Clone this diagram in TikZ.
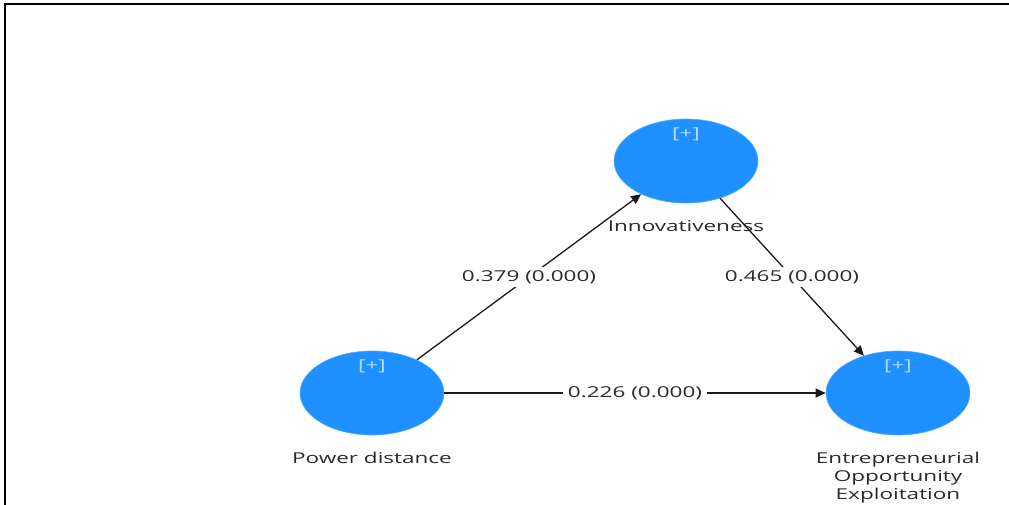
\documentclass[tikz,border=0pt]{standalone}
\usepackage{fontspec}
\setmainfont{Open Sans}
\usepackage{xcolor}
\definecolor{latentblue}{HTML}{1E90FF}
\definecolor{plusblue}{HTML}{B4DDFF}
\definecolor{pathink}{HTML}{1A1A1A}
\definecolor{textgray}{HTML}{2A2A2A}
\usetikzlibrary{positioning,arrows.meta,shapes.geometric}

\begin{document}
\begin{tikzpicture}[x=1pt, y=1pt,
  construct/.style={ellipse, fill=latentblue, draw=latentblue!75!white, line width=0.6pt,
    minimum width=144pt, minimum height=84pt, inner sep=0pt},
  plusmark/.style={text=plusblue, font=\fontsize{15}{17}\selectfont, xscale=1.5,
    transform shape, inner sep=0pt, anchor=north},
  cname/.style={text=textgray, font=\fontsize{15}{18}\selectfont, align=center,
    xscale=1.5, transform shape, inner sep=0pt},
  path/.style={draw=pathink, line width=1.3pt, -{Triangle[length=10pt, width=9pt]}},
  weight/.style={fill=white, text=textgray, font=\fontsize{15}{18}\selectfont,
    xscale=1.5, transform shape, inner sep=3pt}]
  \useasboundingbox (0,0) rectangle (1009,-505);
  % Frame
  \draw[line width=2pt] (5,-505) -- (5,-4) -- (1009,-4);
  % Constructs
  \node[construct] (pd) at (372,-393) {};
  \node[construct] (inn) at (686,-161) {};
  \node[construct] (eoe) at (898,-393) {};
  \foreach \c in {pd,inn,eoe} {
    \node[plusmark] (\c plus) at ([yshift=-9pt]\c.north) {[+]};
  }
  \node[cname, below=17pt of pd] (pdname) {Power distance};
  \node[cname, below=17pt of inn] (innname) {Innovativeness};
  \node[cname, below=17pt of eoe] (eoename) {Entrepreneurial\\Opportunity\\Exploitation};
  % Paths with coefficients
  \draw[path] (pd) -- node[weight] (pdinn) {0.379 (0.000)} (inn);
  \draw[path] (inn) -- node[weight] (inneoe) {0.465 (0.000)} (eoe);
  \draw[path] (pd) -- node[weight] (pdeoe) {0.226 (0.000)} (eoe);
\end{tikzpicture}
\end{document}
